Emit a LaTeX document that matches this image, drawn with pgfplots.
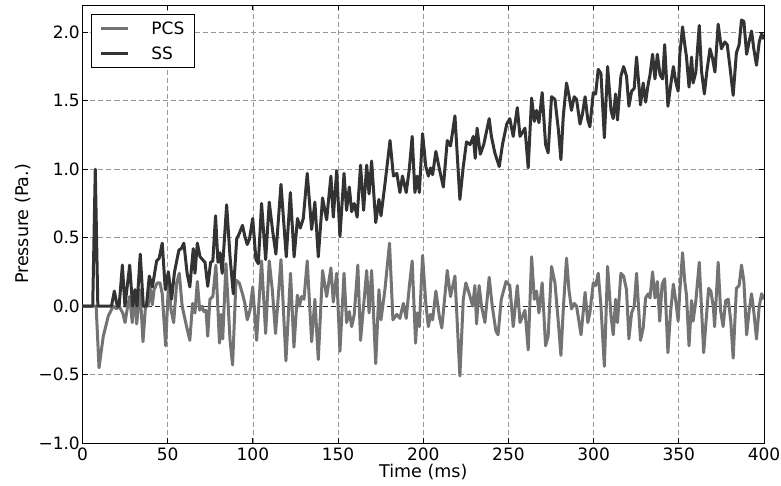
\documentclass[border=0pt]{standalone}
\usepackage{fontspec}
\setmainfont{DejaVu Sans}
\usepackage{pgfplots}
\pgfplotsset{compat=1.18}
\usepackage{pgfplotstable}
\definecolor{sscol}{gray}{0.2}
\definecolor{pcscol}{gray}{0.45}
\definecolor{gridcol}{gray}{0.6}

\pgfplotstableread{
t v
0 0
6 0
7.5 1.0
9 0
17 0
18.7 0.11
20.4 0
21.5 0
23.4 0.30
24.9 0.0
27.7 0.30
29.4 0.0
30.8 0.12
32 0.0
33.9 0.38
35.7 0.0
37.5 0.0
39.2 0.22
41 0.14
43.5 0.33
45 0.35
46.8 0.46
48.6 0.12
50.4 0.25
52.3 0.05
54 0.25
56.6 0.41
58 0.42
59.5 0.46
61.4 0.24
63 0.14
65 0.42
66 0.24
67.4 0.46
69 0.36
71.9 0.32
73.5 0.145
75.2 0.32
76.5 0.33
78.1 0.66
79.5 0.32
80.7 0.39
82 0.24
84.6 0.74
86.6 0.36
88.5 0.09
90.5 0.49
92 0.53
93.9 0.59
95.3 0.51
96.7 0.45
98 0.49
99.9 0.64
101.8 0.34
103.2 0.31
105.1 0.75
107.5 0.34
109.6 0.76
111.6 0.55
113.5 0.38
116.5 0.89
119.6 0.36
122 0.83
124.2 0.36
126.2 0.64
127.8 0.57
129.6 0.64
131.9 0.97
134.5 0.56
136.4 0.76
138.4 0.36
140.9 0.79
143.3 0.63
145.8 0.95
147.2 0.65
149.2 0.99
151.1 0.51
153.5 0.97
155 0.70
156.6 0.87
158 0.69
159.5 0.75
161.2 0.65
163.2 1.03
165 0.70
166.8 1.03
168.2 0.82
169.7 1.06
172.1 0.61
174 0.78
175.2 0.66
177.5 0.89
180.5 1.21
182.5 0.95
184.5 0.97
186.3 0.83
187.8 0.95
190 0.83
191.8 1.0
193.5 1.24
195.1 0.83
196.5 0.95
197.7 0.83
199.6 1.26
201.5 1.02
203 0.95
204.3 1.01
205.5 0.96
207.4 1.13
209.5 1.0
211.8 0.87
214.1 1.21
216 1.17
218.6 1.39
221.5 0.78
223.5 1.02
225.4 1.20
227.5 1.18
229.4 1.24
230.5 1.08
231.6 1.30
233.5 1.11
235.5 1.18
238.7 1.37
240 1.24
242 1.12
244.6 1.02
246.5 1.18
249 1.33
250.8 1.37
252.8 1.24
255.2 1.45
256.8 1.24
259.7 1.30
261.6 1.01
263.6 1.52
265.2 1.35
266.5 1.43
267.9 1.34
269.8 1.56
271.8 1.18
273.3 1.12
275.3 1.53
277.3 1.51
279.3 1.29
280.8 1.07
282.2 1.39
284.1 1.63
285.5 1.54
287 1.43
288.6 1.53
290 1.51
292 1.33
293.4 1.40
295 1.53
296.6 1.36
297.8 1.31
299.8 1.56
301.2 1.55
302.7 1.73
304.3 1.70
306.3 1.23
308.2 1.75
310.2 1.43
311.5 1.37
312.9 1.55
314 1.36
316 1.68
317.6 1.75
319.3 1.68
320.7 1.46
322.3 1.57
323.8 1.59
325.2 1.82
327.5 1.47
329.1 1.63
330.5 1.49
332 1.62
333.1 1.69
334.6 1.84
336 1.66
337.4 1.84
339 1.69
340.5 1.66
341.7 1.91
343.6 1.46
345.3 1.62
346.8 1.75
348.2 1.64
349.6 1.57
350.6 1.84
352.2 2.04
353.5 1.91
354.5 1.82
356 1.60
357.5 1.82
358.4 1.63
360 1.71
362 2.05
363.3 1.72
365 1.55
366.4 1.71
368.3 1.88
369.8 1.81
371.2 1.71
373.1 2.06
375 1.88
377 1.93
378.4 1.91
380 1.75
381.9 1.54
383.8 1.85
385.4 1.91
386.8 2.09
388.2 2.08
389.8 1.84
391.4 1.94
392.7 2.01
394 1.88
395.6 1.76
397.2 1.93
398.6 1.99
400 1.95
}\sstable

\pgfplotstableread{
t v
0 0
8 0
9.7 -0.45
12.2 -0.22
15.2 -0.07
18 0
20 -0.02
21.5 0.0
23.6 -0.05
25 -0.12
26.5 0.0
27.7 0.07
29.2 -0.12
30.5 0.1
31.8 -0.13
33.8 0.12
35.5 -0.26
37 0
38.5 0.0
39.6 0.14
41 0.01
42 0.12
43.9 0.17
45.5 0.17
46.8 0.09
48.8 -0.29
50.5 0.17
52 -0.03
53.5 -0.12
55.3 0.17
56.8 0.24
58.5 0.0
61.1 -0.15
63 -0.25
64.6 0.02
66 -0.05
67.4 0.18
68.8 -0.03
70.2 0.0
71.2 -0.04
72.5 -0.03
73.5 -0.22
74.8 0.05
76.5 0.07
78.3 0.30
80.4 -0.27
81.3 -0.06
82.3 -0.24
84.2 0.31
86.6 -0.25
88.1 -0.43
90.1 0.19
92 0.17
93.9 0.09
95.3 0.02
96.7 -0.10
98.3 -0.03
99.9 0.14
102.2 -0.25
105.1 0.33
107.5 -0.20
109.6 0.33
111.4 0.12
113.3 -0.20
116.5 0.34
119.4 -0.40
122.1 0.24
124.1 -0.30
126.1 0.08
127.3 0.0
128.6 0.07
130 0.05
131.9 0.33
134.5 -0.26
136.4 0.05
138.4 -0.39
140.9 0.26
143.3 0.07
145.8 0.28
147.2 0.03
149.2 0.24
151.1 -0.33
153.5 0.24
155 -0.12
156.6 -0.04
158 -0.15
159.5 -0.06
161.6 0.30
163.2 -0.25
166.8 0.26
168.2 -0.05
169.7 0.26
172.1 -0.42
174 0.12
175.2 -0.10
177.5 0.12
180.2 0.46
182.2 -0.10
184.5 -0.06
186.3 -0.09
188.3 0.02
190 -0.09
191.8 0.14
193.5 0.33
195.5 -0.27
196.5 -0.05
197.7 -0.15
199.6 0.37
201.5 0.02
203 -0.15
204.3 -0.06
205.5 -0.10
207.4 0.11
209.5 -0.08
210.9 -0.16
214.1 0.26
216 0.07
218.6 0.22
221.5 -0.51
223.5 0.05
225 0.17
227 0.09
229 0.0
230.3 0.15
231.3 -0.13
232.8 0.15
234.2 0.0
236.2 -0.12
238.7 0.21
240.5 0.0
242.6 -0.18
243.9 -0.21
245.8 0.05
248.6 0.18
250.8 0.15
252.8 -0.15
255.2 0.15
256.8 -0.12
259.7 -0.03
261.6 -0.32
263.6 0.36
265.2 0.05
266.5 0.11
267.9 -0.05
269.8 0.17
271.8 -0.29
273.3 -0.22
275.3 0.29
277.3 0.17
279.3 -0.12
280.8 -0.36
282.2 -0.02
284.1 0.35
285.5 0.12
287 -0.02
288.6 0.02
290 0.0
292.6 -0.21
295 0.10
296.6 -0.12
297.8 -0.05
299.8 0.17
301.2 0.15
302.7 0.24
304.3 0.0
306.3 -0.44
308.2 0.29
310.2 -0.07
311.5 -0.21
312.9 0.05
314 -0.12
316 0.24
317.6 0.22
319.3 0.12
320.7 -0.24
322.3 -0.05
323.8 0.0
325.2 0.24
327.5 -0.25
329.1 -0.16
330.5 0.06
332 0.09
333.1 0.06
334.6 0.25
336 0.06
337.4 0.18
338.8 -0.11
340.2 0.16
341.7 0.20
343.6 -0.34
345.2 -0.04
346.8 0.16
348.2 0.04
349.6 -0.11
350.6 0.11
352.2 0.39
353.5 0.18
354.5 0.08
356 -0.29
357.5 0.04
358.4 -0.11
360 0.04
362 0.32
364.6 -0.34
366 -0.11
367.5 0.13
368.8 0.11
370.3 -0.01
371 -0.15
373.1 0.32
374.5 -0.03
376 -0.15
377.5 0.04
379 0.05
380.5 -0.11
381.9 -0.38
383.8 0.13
385.4 0.15
386.8 0.30
388.2 0.18
389.8 -0.21
391.4 -0.02
392.7 0.09
394 -0.04
395.6 -0.24
397.2 0.0
398.6 0.09
400 0.05
}\pcstable

\begin{document}
\begin{tikzpicture}
\begin{axis}[
  scale only axis,
  width=681.5pt, height=438pt,
  xmin=0, xmax=400, ymin=-1, ymax=2.2,
  xtick={0,50,...,400},
  xticklabels={0,50,100,150,200,250,300,350,400},
  ytick={-1,-0.5,0,0.5,1,1.5,2},
  yticklabels={−1.0,−0.5,0.0,0.5,1.0,1.5,2.0},
  tick align=inside,
  tick pos=both,
  major tick length=5pt,
  every tick/.style={black, line width=0.8pt},
  axis line style={black, line width=0.9pt},
  grid=major,
  major grid style={gridcol, dash pattern=on 5pt off 3pt, line width=0.7pt},
  tick label style={font=\fontsize{17}{20}\selectfont, inner sep=0pt},
  xticklabel style={anchor=base, yshift=-18pt},
  yticklabel style={anchor=east, xshift=-2.5pt},
  xlabel={Time (ms)},
  ylabel={Pressure (Pa.)},
  label style={font=\fontsize{17.5}{20}\selectfont, inner sep=0pt},
  xlabel style={at={(axis description cs:0.5,0)}, anchor=base, yshift=-35pt},
  ylabel style={at={(axis description cs:0,0.5)}, anchor=base, yshift=53.5pt},
  legend style={at={(0,1)}, anchor=north west, xshift=8.5pt, yshift=-9pt,
    draw=black, line width=0.8pt, font=\fontsize{17}{20}\selectfont,
    inner xsep=8pt, inner ysep=5pt, row sep=7pt,
    nodes={inner sep=2pt}},
  legend cell align=left,
  legend image code/.code={\draw[#1, line width=3pt] (0pt,0pt) -- (27pt,0pt);},
  /tikz/every even column/.append style={column sep=0pt},
]
\addplot[black!85, dash pattern=on 5pt off 3pt, line width=0.7pt, forget plot] coordinates {(0,0) (400,0)};
\addplot[pcscol, line width=3pt, line join=round] table[x=t,y=v] {\pcstable};
\addlegendentry{\hspace{20pt}PCS}
\addplot[sscol, line width=3pt, line join=round] table[x=t,y=v] {\sstable};
\addlegendentry{\hspace{20pt}SS}
\coordinate (ll) at (rel axis cs:0,0);
\coordinate (ur) at (rel axis cs:1,1);
\end{axis}
\pgfresetboundingbox
\path ([xshift=-82.5pt,yshift=-43pt]ll) rectangle ([xshift=17pt,yshift=5pt]ur);
\end{tikzpicture}
\end{document}
